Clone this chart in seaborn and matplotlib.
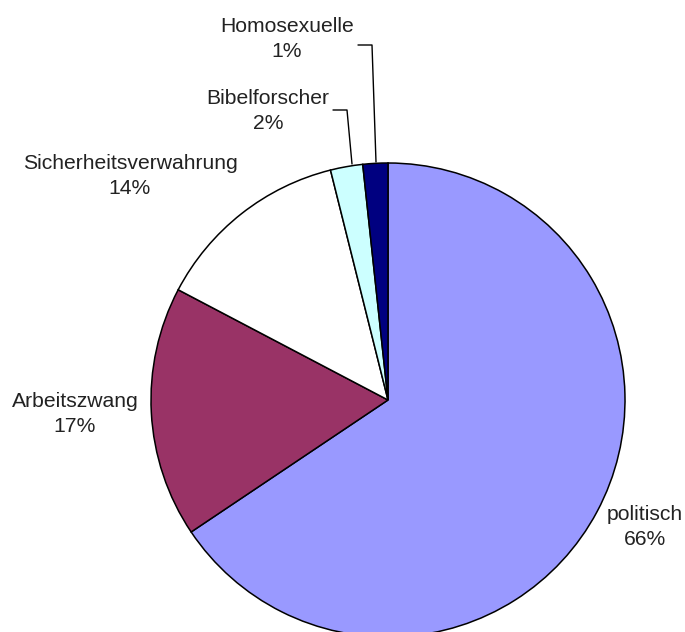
import matplotlib
matplotlib.use("Agg")
import matplotlib.pyplot as plt
import seaborn as sns

categories = ["politisch", "Arbeitszwang", "Sicherheitsverwahrung", "Bibelforscher", "Homosexuelle"]
values = [65.6, 17.1, 13.4, 2.2, 1.7]
percent_labels = [66, 17, 14, 2, 1]
colors = ["#9999FF", "#993366", "#FFFFFF", "#CCFFFF", "#000080"]

sns.set_style("white")
plt.rcParams["font.family"] = ["Liberation Sans", "DejaVu Sans"]

W, H = 685, 632
CX, CY, R = 388, 400, 237

def d(px, py):
    return ((px - CX) / R, (CY - py) / R)

fig = plt.figure(figsize=(W / 100, H / 100), dpi=100)
ax = fig.add_axes([0, 0, 1, 1])
palette = sns.color_palette(colors)
ax.pie(values, colors=palette, startangle=90, counterclock=False, radius=1.0,
       wedgeprops=dict(edgecolor="black", linewidth=1.1))
ax.set_aspect("auto")
ax.set_xlim(-CX / R, (W - CX) / R)
ax.set_ylim((CY - H) / R, CY / R)
ax.axis("off")

label_pos = {
    "politisch": (645, 527),
    "Arbeitszwang": (75, 414),
    "Sicherheitsverwahrung": (130, 176),
    "Bibelforscher": (268, 111),
    "Homosexuelle": (287, 39),
}
for name, p in zip(categories, percent_labels):
    px, py = label_pos[name]
    x, y = d(px, py)
    ax.text(x, y, f"{name}\n{p}%", ha="center", va="center",
            fontsize=15.2, color="#222222", linespacing=1.45)

for pts in ([(358, 45), (372, 45), (376, 162)], [(333, 110), (347, 110), (352, 164)]):
    xs, ys = zip(*[d(*p) for p in pts])
    ax.plot(xs, ys, color="black", linewidth=1.0)

fig.savefig("out.png", dpi=100, facecolor="white")
